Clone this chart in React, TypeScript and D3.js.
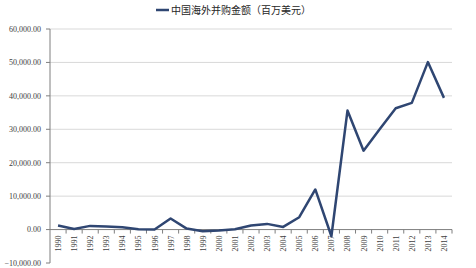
import React from "react";
import * as d3 from "d3";

const years = ["1990","1991","1992","1993","1994","1995","1996","1997","1998","1999","2000","2001","2002","2003","2004","2005","2006","2007","2008","2009","2010","2011","2012","2013","2014"];
const values = [1200, 200, 1100, 900, 700, 100, 0, 3300, 300, -500, -300, 100, 1200, 1700, 800, 3700, 12000, -2000, 35600, 23600, 30000, 36300, 37900, 50100, 39400];
const yTicks = [-10000, 0, 10000, 20000, 30000, 40000, 50000, 60000];
const seriesName = "中国海外并购金额（百万美元）";

const W = 476, H = 268;
const left = 50, right = 452, top = 29, bottom = 263;

export default function App() {
  const x = d3.scaleBand<string>().domain(years).range([left, right]).padding(0);
  const y = d3.scaleLinear().domain([-10000, 60000]).range([bottom, top]);
  const fmt = d3.format(",.2f");
  const line = d3.line<number>()
    .x((_, i) => (x(years[i]) as number) + x.bandwidth() / 2)
    .y((d) => y(d));
  const y0 = y(0);
  const color = "#2F4672";
  return (
    <svg width={W} height={H} style={{ position: "absolute", left: 0, top: 0, background: "#fff" }}>
      {yTicks.map((t) => (
        <g key={t}>
          {t !== 0 && t !== -10000 && (
            <line x1={left} x2={right} y1={y(t)} y2={y(t)} stroke="#D9D9D9" strokeWidth={1} />
          )}
          <line x1={left - 4} x2={left} y1={y(t)} y2={y(t)} stroke="#7F7F7F" strokeWidth={1} />
          <text x={41} y={y(t)} dy="0.35em" textAnchor="end" fontFamily="Liberation Serif" fontSize={8} fill="#404040">
            {fmt(t)}
          </text>
        </g>
      ))}
      <line x1={left} x2={left} y1={top} y2={bottom} stroke="#7F7F7F" strokeWidth={1} />
      <line x1={left} x2={right} y1={y0} y2={y0} stroke="#7F7F7F" strokeWidth={1} />
      {years.map((yr) => (
        <line key={"tk" + yr} x1={(x(yr) as number) + x.bandwidth()} x2={(x(yr) as number) + x.bandwidth()} y1={y0} y2={y0 + 4} stroke="#7F7F7F" strokeWidth={1} />
      ))}
      {years.map((yr) => {
        const cx = (x(yr) as number) + x.bandwidth() / 2;
        return (
          <text key={yr} transform={`translate(${cx + 3},${y0 + 6}) rotate(-90)`} textAnchor="end" fontFamily="Liberation Serif" fontSize={8} fill="#404040">
            {yr}
          </text>
        );
      })}
      <path d={line(values) || ""} fill="none" stroke={color} strokeWidth={2.5} strokeLinejoin="round" />
      <line x1={156} x2={169} y1={10} y2={10} stroke={color} strokeWidth={2.5} />
      <text x={171} y={10} dy="0.35em" fontFamily="Noto Sans CJK SC" fontSize={10} fill="#262626">
        {seriesName}
      </text>
    </svg>
  );
}
